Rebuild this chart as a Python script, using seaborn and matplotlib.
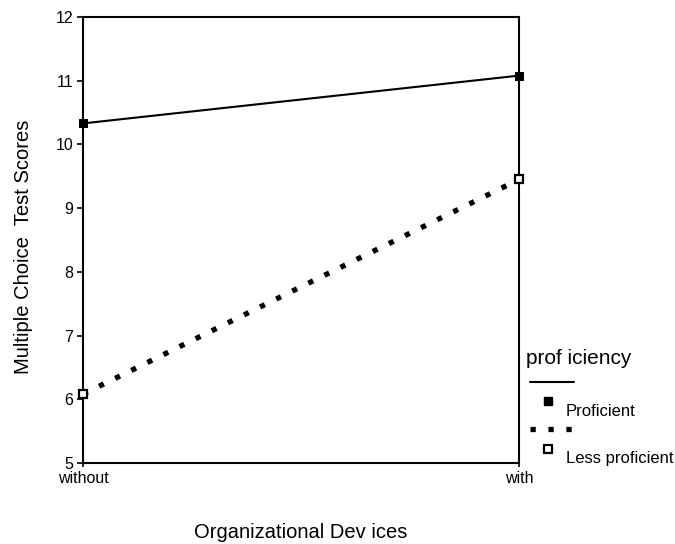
import pandas as pd
import matplotlib.pyplot as plt
import seaborn as sns
from matplotlib.lines import Line2D

devices = ['without', 'with']
proficient = [10.33, 11.08]
less_proficient = [6.08, 9.45]

df = pd.DataFrame({
    'device': devices * 2,
    'score': proficient + less_proficient,
    'group': ['Proficient'] * 2 + ['Less proficient'] * 2,
})

sns.set_style('white')
plt.rcParams['font.family'] = ['Liberation Sans', 'DejaVu Sans']
plt.rcParams['text.color'] = 'black'

fig = plt.figure(figsize=(6.75, 5.44), dpi=100)
ax = fig.add_axes([83 / 675, 1 - 463 / 544, (519 - 83) / 675, (463 - 17) / 544])

sns.lineplot(data=df[df['group'] == 'Proficient'], x='device', y='score', ax=ax,
             color='black', linewidth=1.5, marker='s', markersize=6,
             markerfacecolor='black', markeredgecolor='black', legend=False,
             clip_on=False, zorder=3)
sns.lineplot(data=df[df['group'] == 'Less proficient'], x='device', y='score', ax=ax,
             color='black', linewidth=3.8, linestyle=(0, (1, 2.4)),
             dash_capstyle='butt', marker='s', markersize=6,
             markerfacecolor='white', markeredgecolor='black', markeredgewidth=1.6,
             legend=False, clip_on=False, zorder=3)

ax.set_xlim(0, 1)
ax.set_ylim(5, 12)
ax.set_yticks(range(5, 13))
ax.set_xlabel('')
ax.set_ylabel('')
for s in ax.spines.values():
    s.set_visible(True)
    s.set_color('black')
    s.set_linewidth(1.5)
ax.tick_params(axis='y', which='both', left=True, length=4, width=1.2,
               direction='out', labelsize=11.5, pad=3, colors='black')
ax.tick_params(axis='x', which='both', bottom=True, length=3, width=1.2,
               direction='out', labelsize=11.5, pad=3, colors='black')

fig.text(301 / 675, 1 - 533 / 544, 'Organizational Dev ices', ha='center',
         va='center', fontsize=14.5)
fig.text(24 / 675, 1 - 247 / 544, 'Multiple Choice  Test Scores', ha='center',
         va='center', rotation=90, fontsize=14.5)

# legend drawn by hand to match the original layout
def fx(px):
    return px / 675


def fy(py):
    return 1 - py / 544


fig.text(fx(526), fy(358), 'prof iciency', ha='left', va='center', fontsize=15)
fig.add_artist(Line2D([fx(530), fx(574)], [fy(382), fy(382)], color='black',
                      linewidth=1.5))
fig.add_artist(Line2D([fx(548)], [fy(401)], marker='s', markersize=5.5,
                      color='black', linestyle='none'))
fig.text(fx(566), fy(411), 'Proficient', ha='left', va='center', fontsize=12)
fig.add_artist(Line2D([fx(530), fx(574)], [fy(429), fy(429)], color='black',
                      linewidth=3.8, linestyle=(0, (1, 2.4)), dash_capstyle='butt'))
fig.add_artist(Line2D([fx(548)], [fy(449)], marker='s', markersize=5.5,
                      markerfacecolor='white', markeredgecolor='black',
                      markeredgewidth=1.6, linestyle='none'))
fig.text(fx(566), fy(459), 'Less proficient', ha='left', va='center', fontsize=12)

fig.savefig('out.png', dpi=100)
